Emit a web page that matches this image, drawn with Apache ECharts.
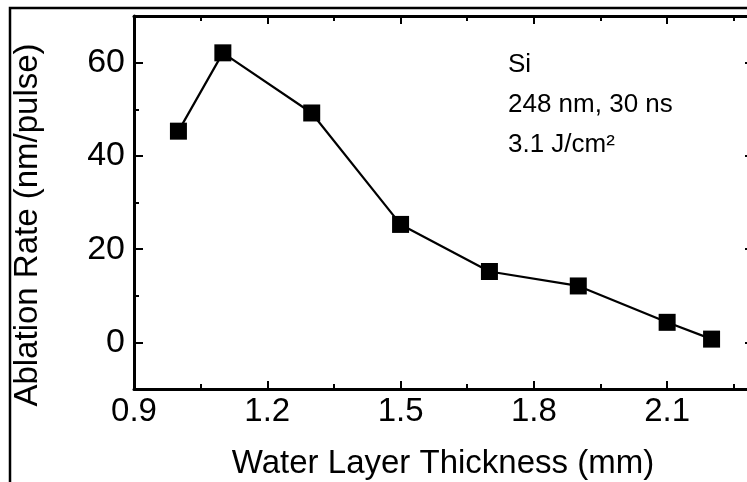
<!DOCTYPE html>
<html>
<head>
<meta charset="utf-8">
<script src="https://cdn.jsdelivr.net/npm/echarts@6/dist/echarts.min.js"></script>
<style>
  html, body { margin: 0; padding: 0; background: #fff; }
  #chart { width: 747px; height: 482px; }
</style>
</head>
<body>
<div id="chart"></div>
<script>
// Water layer thickness (mm) and the measured ablation rate (nm/pulse)
const thickness = [1.0, 1.1, 1.3, 1.5, 1.7, 1.9, 2.1, 2.2];
const ablationRate = [45.3, 62.1, 49.2, 25.3, 15.2, 12.1, 4.3, 0.7];

const xTitle = 'Water Layer Thickness (mm)';
const yTitle = 'Ablation Rate (nm/pulse)';
const noteLines = ['Si', '248 nm, 30 ns', '3.1 J/cm²'];

const FONT = '"Liberation Sans", Arial, Helvetica, sans-serif';
const INK = '#000';

const points = thickness.map((t, i) => [t, ablationRate[i]]);

// Plot frame geometry (the right edge of the frame runs past the canvas)
const plotLeft = 134, plotTop = 16, plotW = 622, plotH = 373;
const yMin = -10, yMax = 70;
const pxPerUnit = plotH / (yMax - yMin);

const chart = echarts.init(document.getElementById('chart'), null, { renderer: 'canvas' });

const axisLine = { show: true, onZero: false, lineStyle: { color: INK, width: 3 } };

chart.setOption({
  animation: false,
  backgroundColor: '#fff',
  grid: [
    { left: plotLeft, top: plotTop, width: plotW, height: plotH, outerBoundsMode: 'none', containLabel: false },
    // second grid spanning 0..60 for the longer major ticks of the y axes
    {
      left: plotLeft, top: plotTop + (yMax - 60) * pxPerUnit, width: plotW, height: 60 * pxPerUnit,
      outerBoundsMode: 'none', containLabel: false
    }
  ],
  xAxis: [
    {
      type: 'value', gridIndex: 0, position: 'bottom',
      min: 0.9, max: 2.3, interval: 0.3,
      axisLine: axisLine,
      axisTick: { show: true, inside: true, length: 8, lineStyle: { color: INK, width: 2 } },
      minorTick: { show: true, splitNumber: 2, length: 5, lineStyle: { color: INK, width: 2 } },
      splitLine: { show: false },
      axisLabel: {
        color: INK, fontFamily: FONT, fontSize: 33, margin: 6, showMaxLabel: false,
        formatter: v => v.toFixed(1)
      }
    },
    {
      type: 'value', gridIndex: 0, position: 'top',
      min: 0.9, max: 2.3, interval: 0.3,
      axisLine: axisLine,
      axisTick: { show: true, inside: true, length: 8, lineStyle: { color: INK, width: 2 } },
      minorTick: { show: true, splitNumber: 2, length: 5, lineStyle: { color: INK, width: 2 } },
      splitLine: { show: false },
      axisLabel: { show: false }
    },
    { type: 'value', gridIndex: 1, min: 0.9, max: 2.3, show: false }
  ],
  yAxis: [
    {
      type: 'value', gridIndex: 0, position: 'left',
      min: yMin, max: yMax, interval: 10,
      axisLine: axisLine,
      axisTick: { show: true, inside: true, length: 5, lineStyle: { color: INK, width: 2 } },
      splitLine: { show: false },
      axisLabel: {
        color: INK, fontFamily: FONT, fontSize: 34, margin: 9,
        formatter: v => (v % 20 === 0 ? String(v) : '')
      }
    },
    {
      type: 'value', gridIndex: 0, position: 'right',
      min: yMin, max: yMax, interval: 10,
      axisLine: axisLine,
      axisTick: { show: true, inside: true, length: 5, lineStyle: { color: INK, width: 2 } },
      splitLine: { show: false },
      axisLabel: { show: false }
    },
    {
      type: 'value', gridIndex: 1, position: 'left',
      min: 0, max: 60, interval: 20,
      axisLine: { show: false },
      axisTick: { show: true, inside: true, length: 9, lineStyle: { color: INK, width: 2 } },
      splitLine: { show: false },
      axisLabel: { show: false }
    },
    {
      type: 'value', gridIndex: 1, position: 'right',
      min: 0, max: 60, interval: 20,
      axisLine: { show: false },
      axisTick: { show: true, inside: true, length: 11, lineStyle: { color: INK, width: 2 } },
      splitLine: { show: false },
      axisLabel: { show: false }
    }
  ],
  series: [
    {
      type: 'line',
      xAxisIndex: 0, yAxisIndex: 0,
      data: points,
      symbol: 'rect',
      symbolSize: 17,
      lineStyle: { color: INK, width: 2.2 },
      itemStyle: { color: INK, borderColor: INK, borderWidth: 0 },
      z: 5
    }
  ],
  graphic: [
    {
      type: 'rect', silent: true, z: 0,
      shape: { x: 10, y: 8, width: 800, height: 520 },
      style: { fill: null, stroke: INK, lineWidth: 2.5 }
    },
    {
      type: 'text', silent: true,
      x: 28, y: 225, rotation: Math.PI / 2,
      style: {
        text: yTitle, fill: INK, font: '33px ' + FONT,
        textAlign: 'center', textVerticalAlign: 'middle'
      }
    },
    {
      type: 'text', silent: true,
      x: 443, y: 464,
      style: {
        text: xTitle, fill: INK, font: '33px ' + FONT,
        textAlign: 'center', textVerticalAlign: 'middle'
      }
    },
    ...noteLines.map((line, i) => ({
      type: 'text', silent: true,
      x: 508, y: 65 + i * 40,
      style: {
        text: line, fill: INK, font: '26px ' + FONT,
        textAlign: 'left', textVerticalAlign: 'middle'
      }
    }))
  ]
});
</script>
</body>
</html>
